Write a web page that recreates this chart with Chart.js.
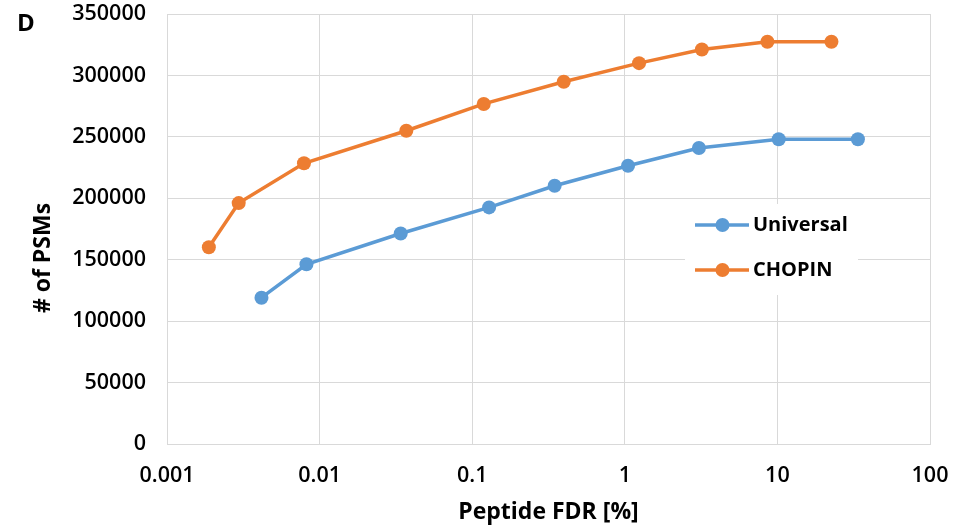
<!DOCTYPE html>
<html>
<head>
<meta charset="utf-8">
<script src="https://cdn.jsdelivr.net/npm/chart.js@4/dist/chart.umd.min.js"></script>
<style>
  html, body { margin: 0; padding: 0; background: #fff; }
  #wrap { width: 960px; height: 529px; position: relative; }
</style>
</head>
<body>
<div id="wrap"><canvas id="c" width="960" height="529"></canvas></div>
<script>
// ---- data ----
const panelLabel = 'D';
const seriesNames = ['Universal', 'CHOPIN'];
const universalFDR = [0.00416, 0.0082, 0.034, 0.129, 0.347, 1.05, 3.06, 10.2, 33.7];
const universalPSMs = [119100, 146300, 171300, 192600, 210200, 226500, 240900, 248000, 248000];
const chopinFDR = [0.00188, 0.00295, 0.0079, 0.037, 0.119, 0.398, 1.24, 3.2, 8.6, 22.6];
const chopinPSMs = [160200, 196100, 228500, 255000, 276800, 294800, 310000, 321100, 327400, 327400];
const xTickValues = [0.001, 0.01, 0.1, 1, 10, 100];
const xTickLabels = ['0.001', '0.01', '0.1', '1', '10', '100'];
const yTickStep = 50000;
const yMin = 0, yMax = 350000;
const xTitle = 'Peptide FDR [%]';
const yTitle = '# of PSMs';
const colors = ['#5B9BD5', '#ED7D31'];

const FONT = "'Open Sans', 'DejaVu Sans', sans-serif";

const toPts = (xs, ys) => xs.map((x, i) => ({ x: x, y: ys[i] }));

const overlayPlugin = {
  id: 'overlay',
  beforeDatasetsDraw(chart) {
    const ctx = chart.ctx;
    ctx.save();
    ctx.fillStyle = '#ffffff';
    ctx.fillRect(685, 204, 173, 91);
    const rows = [225, 270];
    chart.data.datasets.forEach((ds, i) => {
      const y = rows[i];
      ctx.strokeStyle = ds.borderColor;
      ctx.lineWidth = 3.5;
      ctx.beginPath();
      ctx.moveTo(695, y);
      ctx.lineTo(749, y);
      ctx.stroke();
      ctx.fillStyle = ds.backgroundColor;
      ctx.beginPath();
      ctx.arc(722.5, y, 7, 0, Math.PI * 2);
      ctx.fill();
      ctx.fillStyle = '#000';
      ctx.font = 'bold 20px ' + FONT;
      ctx.textBaseline = 'middle';
      ctx.textAlign = 'left';
      ctx.fillText(ds.label, 753, y);
    });
    ctx.restore();
  },
  afterDraw(chart) {
    const ctx = chart.ctx;
    ctx.save();
    ctx.fillStyle = '#000';
    ctx.font = 'bold 24px ' + FONT;
    ctx.textBaseline = 'alphabetic';
    ctx.textAlign = 'left';
    ctx.fillText(panelLabel, 17, 31);
    // y axis title
    ctx.translate(43, 258);
    ctx.rotate(-Math.PI / 2);
    ctx.font = 'bold 23px ' + FONT;
    ctx.textAlign = 'center';
    ctx.textBaseline = 'middle';
    ctx.fillText(yTitle, 0, 0);
    ctx.restore();
  }
};

new Chart(document.getElementById('c'), {
  type: 'line',
  data: {
    datasets: [
      {
        label: seriesNames[0],
        data: toPts(universalFDR, universalPSMs),
        borderColor: colors[0],
        backgroundColor: colors[0],
        borderWidth: 3.5,
        pointRadius: 7,
        pointHoverRadius: 7,
        pointBorderWidth: 0,
        tension: 0
      },
      {
        label: seriesNames[1],
        data: toPts(chopinFDR, chopinPSMs),
        borderColor: colors[1],
        backgroundColor: colors[1],
        borderWidth: 3.5,
        pointRadius: 7,
        pointHoverRadius: 7,
        pointBorderWidth: 0,
        tension: 0
      }
    ]
  },
  plugins: [overlayPlugin],
  options: {
    responsive: false,
    animation: false,
    events: [],
    layout: { padding: { top: 14, right: 30, left: 0, bottom: 0 } },
    plugins: { legend: { display: false }, tooltip: { enabled: false } },
    scales: {
      x: {
        type: 'logarithmic',
        min: xTickValues[0],
        max: xTickValues[xTickValues.length - 1],
        afterBuildTicks(scale) {
          scale.ticks = xTickValues.map(v => ({ value: v }));
        },
        afterFit(scale) {
          scale.height = 85;
          scale.paddingLeft = 0;
          scale.paddingRight = 0;
        },
        grid: { color: '#D9D9D9', lineWidth: 1, drawTicks: false },
        border: { color: '#D9D9D9', width: 1 },
        ticks: {
          autoSkip: false,
          maxRotation: 0,
          padding: 19,
          color: '#000',
          font: { family: FONT, size: 21.5, weight: '600' },
          callback: (v, i) => xTickLabels[i]
        },
        title: {
          display: true,
          text: xTitle,
          color: '#000',
          font: { family: FONT, size: 23, weight: 'bold' },
          padding: { top: 0, bottom: 3 }
        }
      },
      y: {
        type: 'linear',
        min: yMin,
        max: yMax,
        afterFit(scale) {
          scale.width = 167;
          scale.paddingTop = 0;
          scale.paddingBottom = 0;
        },
        grid: { color: '#D9D9D9', lineWidth: 1, drawTicks: false },
        border: { color: '#D9D9D9', width: 1 },
        ticks: {
          stepSize: yTickStep,
          padding: 21,
          color: '#000',
          font: { family: FONT, size: 21.5, weight: '600' },
          callback: v => String(v)
        },
        title: { display: false }
      }
    }
  }
});
</script>
</body>
</html>
